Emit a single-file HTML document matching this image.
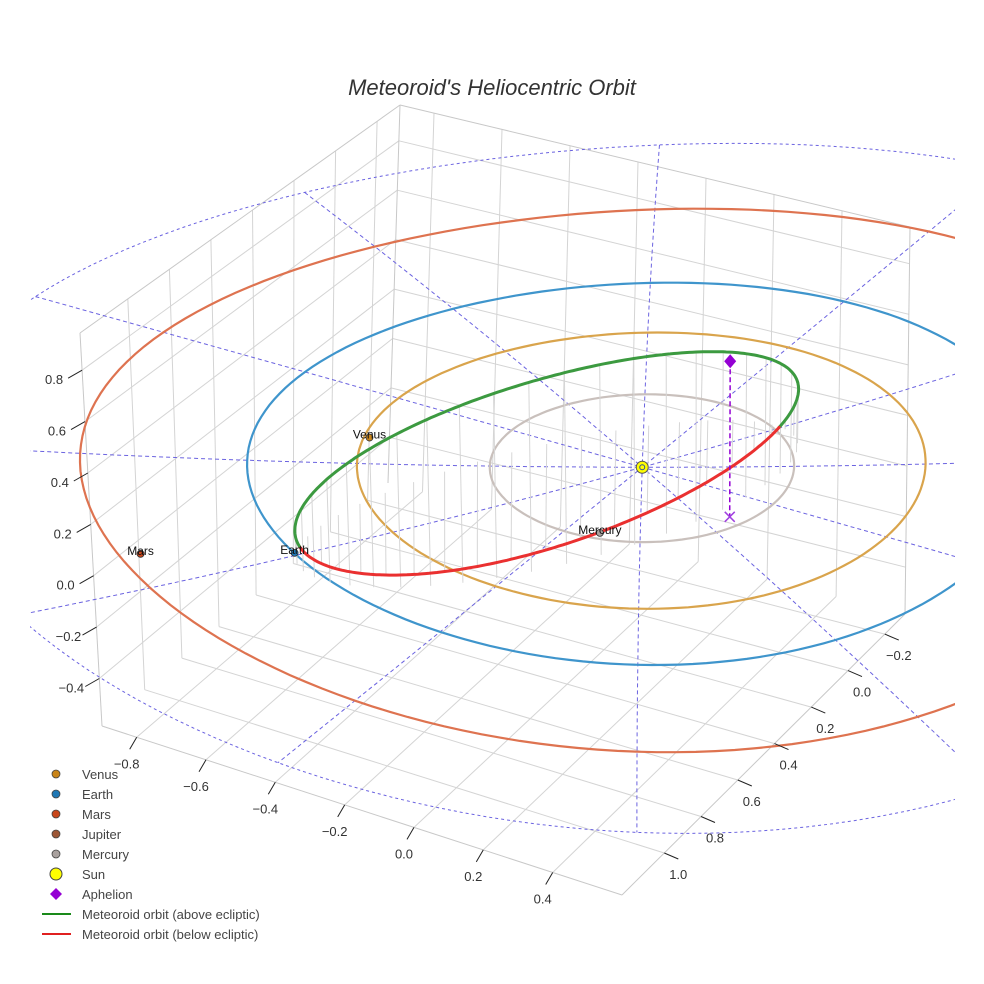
<!DOCTYPE html>
<html><head><meta charset="utf-8"><title>Meteoroid's Heliocentric Orbit</title>
<style>
html,body{margin:0;padding:0;background:#fff;}
svg{display:block;font-family:"Liberation Sans",sans-serif;}
</style></head>
<body>
<svg id="chart" width="984" height="984" viewBox="0 0 984 984" xmlns="http://www.w3.org/2000/svg">
<defs><clipPath id="plotclip"><rect x="30" y="0" width="925" height="984"/></clipPath></defs>
<text x="492" y="95" text-anchor="middle" font-size="22" font-style="italic" fill="#333">Meteoroid's Heliocentric Orbit</text>
<g id="grid"></g>
<g id="scene" clip-path="url(#plotclip)"></g>
<g id="ticks"></g>
<g id="legend"></g>
</svg>
<script>
// ---- data ----
const xTicks = [-0.8,-0.6,-0.4,-0.2,0.0,0.2,0.4];
const yTicks = [-0.2,0.0,0.2,0.4,0.6,0.8,1.0];
const zTicks = [-0.4,-0.2,0.0,0.2,0.4,0.6,0.8];
const planetNames = ["Venus","Earth","Mars","Mercury"];
const planetOrbitRadius = [0.723,1.0,1.42,0.387];
const planetX = [-0.68,-0.54,-0.86,0.07];
const planetY = [0.20,0.84,1.06,0.35];
const refCircleRadius = [1.8,1.0];
const refLineAngles = [-28,2,32,62,92,122];
const meteoroidCenter = [-0.114,0.290,0.160];
const meteoroidAxisA = [0.426,-0.538,0.120];
const meteoroidAxisB = [-0.115,-0.34,-0.572];
const aphelion = [0.32,0.12,0.61];
const sunPos = [0,0,0];

// ---- scene axes (layout) ----
const XR=[-0.9,0.6], YR=[-0.31,1.23], ZR=[-0.585,0.945];
const C={ '000':[388,483],'001':[400,105],'100':[905,614],'101':[910,227],
          '010':[102,726],'011':[80,333],'110':[622,895],'111':[612,490]};
function lerp(a,b,t){return [a[0]+(b[0]-a[0])*t,a[1]+(b[1]-a[1])*t];}
function proj(x,y,z){
  const u=(x-XR[0])/(XR[1]-XR[0]), v=(y-YR[0])/(YR[1]-YR[0]), w=(z-ZR[0])/(ZR[1]-ZR[0]);
  const f0=lerp(lerp(C['000'],C['100'],u),lerp(C['010'],C['110'],u),v);
  const f1=lerp(lerp(C['001'],C['101'],u),lerp(C['011'],C['111'],u),v);
  return lerp(f0,f1,w);
}
const NS='http://www.w3.org/2000/svg';
function mk(tag,attrs,parent){const e=document.createElementNS(NS,tag);for(const k in attrs)e.setAttribute(k,attrs[k]);parent.appendChild(e);return e;}
function pathOf(pts){return pts.map((p,i)=>(i?'L':'M')+p[0].toFixed(1)+' '+p[1].toFixed(1)).join(' ');}
const grid=document.getElementById('grid'), scene=document.getElementById('scene'), ticks=document.getElementById('ticks'), legend=document.getElementById('legend');

// grid
function gline(a,b,name,col){const e=mk('path',{d:pathOf([a,b]),stroke:col||'#d4d4d4','stroke-width':1,fill:'none'},grid);

}
xTicks.forEach(t=>{gline(proj(t,YR[0],ZR[0]),proj(t,YR[1],ZR[0]),'floor-grid-x');gline(proj(t,YR[0],ZR[0]),proj(t,YR[0],ZR[1]),'back-grid-x');});
yTicks.forEach(t=>{gline(proj(XR[0],t,ZR[0]),proj(XR[1],t,ZR[0]),'floor-grid-y');gline(proj(XR[0],t,ZR[0]),proj(XR[0],t,ZR[1]),'left-grid-y');});
zTicks.forEach(t=>{gline(proj(XR[0],YR[0],t),proj(XR[1],YR[0],t),'back-grid-z');gline(proj(XR[0],YR[0],t),proj(XR[0],YR[1],t),'left-grid-z');});
[[[XR[0],YR[1],ZR[0]],[XR[1],YR[1],ZR[0]]],[[XR[1],YR[1],ZR[0]],[XR[1],YR[0],ZR[0]]],[[XR[0],YR[1],ZR[0]],[XR[0],YR[1],ZR[1]]],
 [[XR[0],YR[1],ZR[1]],[XR[0],YR[0],ZR[1]]],[[XR[0],YR[0],ZR[1]],[XR[1],YR[0],ZR[1]]],[[XR[1],YR[0],ZR[0]],[XR[1],YR[0],ZR[1]]],
 [[XR[0],YR[0],ZR[0]],[XR[0],YR[0],ZR[1]]]].forEach(s=>gline(proj(...s[0]),proj(...s[1]),'box-edge','#c8c8c8'));

// ticks
function tick(p,dx,dy,lx,ly,label,name){
  const l=mk('path',{d:pathOf([p,[p[0]+dx,p[1]+dy]]),stroke:'#222','stroke-width':1},ticks);
  
  
  const t=mk('text',{x:p[0]+lx,y:p[1]+ly,'text-anchor':'middle','font-size':13,fill:'#333'},ticks);
  
  
  t.textContent=label.replace('-','\u2212');
}
xTicks.forEach(t=>tick(proj(t,YR[1],ZR[0]),-7,12,-10,31,t.toFixed(1),'x-tick'));
yTicks.forEach(t=>tick(proj(XR[1],t,ZR[0]),14,6,14,26,t.toFixed(1),'y-tick'));
zTicks.forEach(t=>tick(proj(XR[0],YR[1],t),-14,8,-28,14,t.toFixed(1),'z-tick'));

// reference dashed circles and lines
refCircleRadius.forEach((r,i)=>{const pts=[];for(let a=0;a<=360;a+=2){const q=a*Math.PI/180;pts.push(proj(r*Math.cos(q),r*Math.sin(q),0));}
 const e=mk('path',{d:pathOf(pts),stroke:i?'#3a4fc0':'#6b63e0','stroke-width':1,'stroke-dasharray':'3,3',fill:'none'},scene);
 
 });
refLineAngles.forEach(a=>{const q=a*Math.PI/180,r=refCircleRadius[0];const pts=[];
 for(let s=-1;s<=1.0001;s+=0.02)pts.push(proj(s*r*Math.cos(q),s*r*Math.sin(q),0));
 const e=mk('path',{d:pathOf(pts),stroke:'#6b63e0','stroke-width':1,'stroke-dasharray':'4,3',fill:'none'},scene);
 
 });

// planet orbits
const orbitColors=['#d9a44c','#3f95cc','#de7350','#c9c0bc'];
planetOrbitRadius.forEach((r,i)=>{const pts=[];for(let a=0;a<=360;a+=2){const q=a*Math.PI/180;pts.push(proj(r*Math.cos(q),r*Math.sin(q),0));}
 const e=mk('path',{d:pathOf(pts),stroke:orbitColors[i],'stroke-width':2.2,fill:'none'},scene);
 
 });

// meteoroid orbit
function met(t){return [0,1,2].map(k=>meteoroidCenter[k]+meteoroidAxisA[k]*Math.cos(t)+meteoroidAxisB[k]*Math.sin(t));}
for(let a=0;a<360;a+=8){const p=met(a*Math.PI/180);
 const e=mk('path',{d:pathOf([proj(...p),proj(p[0],p[1],0)]),stroke:'#d6d6d6','stroke-width':1},scene);
 
 }
let seg=[],segUp=null;
function flush(){if(seg.length>1){const e=mk('path',{d:pathOf(seg.map(p=>proj(...p))),stroke:segUp?'#3c9a40':'#ea3030','stroke-width':3,fill:'none','stroke-linecap':'round'},scene);
 
 }}
for(let a=0;a<=360;a+=1){const p=met(a*Math.PI/180);const up=p[2]>=0;
 if(segUp===null)segUp=up;
 if(up!==segUp){seg.push(p);flush();seg=[p];segUp=up;}else seg.push(p);}
flush();

// aphelion
const ap=proj(...aphelion), apB=proj(aphelion[0],aphelion[1],0);
let e=mk('path',{d:pathOf([ap,apB]),stroke:'#9400d3','stroke-width':1.5,'stroke-dasharray':'5,3'},scene);


e=mk('path',{d:`M${apB[0]-5} ${apB[1]-5}L${apB[0]+5} ${apB[1]+5}M${apB[0]-5} ${apB[1]+5}L${apB[0]+5} ${apB[1]-5}`,stroke:'#a040e0','stroke-width':1.5},scene);


e=mk('path',{d:`M${ap[0]} ${ap[1]-7}L${ap[0]+6} ${ap[1]}L${ap[0]} ${ap[1]+7}L${ap[0]-6} ${ap[1]}Z`,fill:'#9400d3'},scene);



// sun
const sp=proj(...sunPos);
e=mk('circle',{cx:sp[0],cy:sp[1],r:6,fill:'#ffff00',stroke:'#555','stroke-width':1},scene);


mk('circle',{cx:sp[0],cy:sp[1],r:2.5,fill:'none',stroke:'#3050a0','stroke-width':1},scene);

// planets
const planetColors=['#c98418','#1f77b4','#c8461a','#a9a19e'];
planetNames.forEach((n,i)=>{const p=proj(planetX[i],planetY[i],0);
 const c=mk('circle',{cx:p[0],cy:p[1],r:3.5,fill:planetColors[i],stroke:'#333','stroke-width':0.8},scene);
 
 
 const t=mk('text',{x:p[0],y:p[1]+1,'text-anchor':'middle','font-size':12,fill:'#111'},scene);
 
 
 t.textContent=n;});

// legend
const legendLabels=["Venus","Earth","Mars","Jupiter","Mercury","Sun","Aphelion","Meteoroid orbit (above ecliptic)","Meteoroid orbit (below ecliptic)"];
const legendColors=['#c98418','#1f77b4','#c8461a','#9c5636','#a9a19e','#ffff00','#9400d3','#1a8a1a','#e02020'];
legendLabels.forEach((l,i)=>{const y=774+i*20;
 const g=mk('g',{},legend);
 
 
 if(i<5) mk('circle',{cx:56,cy:y,r:4,fill:legendColors[i],stroke:'#444','stroke-width':0.8},g);
 else if(i===5) mk('circle',{cx:56,cy:y,r:6,fill:'#ffff00',stroke:'#444','stroke-width':1},g);
 else if(i===6) mk('path',{d:`M56 ${y-6}L62 ${y}L56 ${y+6}L50 ${y}Z`,fill:'#9400d3'},g);
 else mk('path',{d:`M42 ${y}L71 ${y}`,stroke:legendColors[i],'stroke-width':2},g);
 const t=mk('text',{x:82,y:y+5,'font-size':13,fill:'#444'},g);
 t.textContent=l;});
</script>
</body></html>
